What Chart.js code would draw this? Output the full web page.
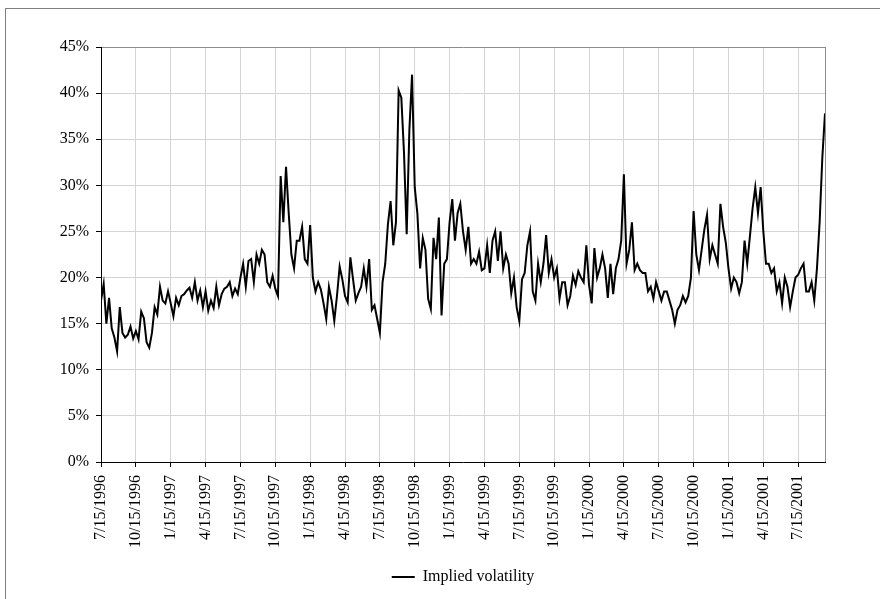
<!DOCTYPE html>
<html>
<head>
<meta charset="utf-8">
<script src="https://cdn.jsdelivr.net/npm/chart.js@4/dist/chart.umd.min.js"></script>
<style>
  html, body { margin: 0; padding: 0; background: #fff; }
  #wrap { position: relative; width: 880px; height: 599px; overflow: hidden; }
  canvas { display: block; }
</style>
</head>
<body>
<div id="wrap"><canvas id="c" width="880" height="599"></canvas></div>
<script>
// Quarterly tick labels (one label every 13 weekly observations)
const tickLabels = ['7/15/1996','10/15/1996','1/15/1997','4/15/1997','7/15/1997','10/15/1997',
  '1/15/1998','4/15/1998','7/15/1998','10/15/1998','1/15/1999','4/15/1999','7/15/1999',
  '10/15/1999','1/15/2000','4/15/2000','7/15/2000','10/15/2000','1/15/2001','4/15/2001','7/15/2001'];
const weeksPerLabel = 13;
const seriesName = 'Implied volatility';

// Weekly implied volatility (%)
const vol1996_97 = [17.5,19.3,15.0,17.8,14.5,13.5,12.0,16.8,14.0,13.5,13.8,14.7,13.4,
  14.2,13.3,16.3,15.6,13.0,12.4,14.0,16.8,16.0,19.0,17.5,17.2,18.5,
  17.2,15.8,17.8,17.0,18.0,18.2,18.6,18.9,17.8,19.5,17.5,18.6,16.8,
  18.5,16.4,17.5,16.7,19.0,17.0,18.2,18.8,19.0,19.5,18.0,18.8,18.2];
const vol1997_98 = [20.0,21.5,19.0,21.8,22.0,19.5,22.5,21.5,23.0,22.5,19.5,19.0,20.2,
  18.8,18.0,31.0,26.0,32.0,27.0,22.5,21.0,24.0,24.0,25.5,22.0,21.5,
  25.7,20.0,18.5,19.5,18.7,17.2,15.5,19.0,17.5,15.3,18.0,21.2,19.8,
  18.0,17.3,22.2,19.8,17.5,18.3,19.0,21.0,19.0,22.0,16.5,17.0,15.5];
const vol1998_99 = [14.0,19.5,21.5,25.8,28.3,23.5,26.0,40.3,39.5,33.5,24.7,36.0,42.0,
  29.8,26.9,21.0,24.3,23.0,17.7,16.6,24.3,22.0,26.5,15.9,21.5,22.0,
  26.0,28.5,24.0,27.0,28.0,25.0,23.0,25.5,21.5,22.0,21.5,22.8,20.8,
  21.0,23.5,20.5,24.0,25.0,21.8,25.0,21.0,22.5,21.5,18.3,20.0,16.8];
const vol1999_00 = [15.3,19.8,20.5,23.5,25.0,18.5,17.5,21.5,19.5,21.5,24.6,20.5,22.0,
  20.0,21.0,17.7,19.5,19.5,17.0,18.0,20.2,19.2,20.7,20.0,19.5,23.5,
  19.2,17.2,23.2,20.0,21.0,22.5,21.0,17.8,21.5,18.2,21.0,22.0,24.0,
  31.2,21.5,23.0,26.0,20.8,21.5,20.8,20.5,20.5,18.5,19.0,17.7,19.5];
const vol2000_01 = [18.5,17.5,18.5,18.5,17.5,16.5,15.0,16.5,17.0,18.0,17.3,18.0,20.0,
  27.2,22.5,20.8,23.0,25.2,26.8,22.0,23.5,22.5,21.5,28.0,25.5,23.8,
  21.0,18.8,20.0,19.5,18.3,19.5,24.0,21.5,24.5,27.5,29.8,27.0,29.8,
  25.0,21.5,21.5,20.5,21.0,18.5,19.5,17.2,20.0,19.0,16.8,18.5,20.0];
const vol2001 = [20.3,21.0,21.5,18.5,18.5,19.5,17.5,21.0,26.0,33.0,37.8];

const values = [].concat(vol1996_97, vol1997_98, vol1998_99, vol1999_00, vol2000_01, vol2001);
const points = values.map((v, i) => ({ x: i, y: v }));

const FONT = 'Liberation Serif, Times New Roman, serif';

const framePlugin = {
  id: 'frame',
  beforeDraw(chart) {
    const ctx = chart.ctx;
    ctx.save();
    ctx.fillStyle = '#fff';
    ctx.fillRect(0, 0, chart.width, chart.height);
    ctx.strokeStyle = '#808080';
    ctx.lineWidth = 1;
    ctx.strokeRect(5.5, 8.5, 1000, 1000);
    ctx.restore();
  },
  afterDatasetsDraw(chart) {
    const a = chart.chartArea, ctx = chart.ctx;
    ctx.save();
    ctx.strokeStyle = '#8c8c8c';
    ctx.lineWidth = 1;
    ctx.beginPath();
    ctx.moveTo(a.right + 0.5, a.top);
    ctx.lineTo(a.right + 0.5, a.bottom);
    ctx.stroke();
    ctx.restore();
  }
};

new Chart(document.getElementById('c'), {
  type: 'line',
  data: {
    datasets: [{
      label: seriesName,
      data: points,
      borderColor: '#000',
      backgroundColor: '#000',
      borderWidth: 2,
      pointRadius: 0,
      tension: 0,
      fill: false
    }]
  },
  options: {
    responsive: false,
    animation: false,
    layout: { padding: { top: 47, left: 0, right: 55, bottom: 4 } },
    plugins: {
      tooltip: { enabled: false },
      legend: {
        position: 'bottom',
        fullSize: false,
        labels: {
          usePointStyle: true,
          pointStyle: 'line',
          pointStyleWidth: 23,
          color: '#000',
          font: { family: FONT, size: 16 },
          padding: 10
        }
      }
    },
    scales: {
      x: {
        type: 'linear',
        min: 0,
        max: values.length - 1,
        afterBuildTicks(scale) {
          scale.ticks = tickLabels.map((_, k) => ({ value: k * weeksPerLabel }));
        },
        afterFit(scale) { scale.height = 97; },
        ticks: {
          autoSkip: false,
          maxRotation: 90,
          minRotation: 90,
          padding: 8,
          color: '#000',
          font: { family: FONT, size: 16 },
          callback(v) { return tickLabels[Math.round(v / weeksPerLabel)] || ''; }
        },
        grid: { color: '#d4d4d4', tickColor: '#000', tickLength: 5, drawTicks: true },
        border: { color: '#000', width: 1 }
      },
      y: {
        min: 0,
        max: 45,
        afterFit(scale) { scale.width = 101; },
        ticks: {
          stepSize: 5,
          padding: 7,
          color: '#000',
          font: { family: FONT, size: 16 },
          callback(v) { return v + '%'; }
        },
        grid: {
          color: (c) => (c.tick && c.tick.value === 45) ? '#8c8c8c' : '#d4d4d4',
          tickColor: '#000',
          tickLength: 5
        },
        border: { color: '#000', width: 1 }
      }
    }
  },
  plugins: [framePlugin]
});
</script>
</body>
</html>
